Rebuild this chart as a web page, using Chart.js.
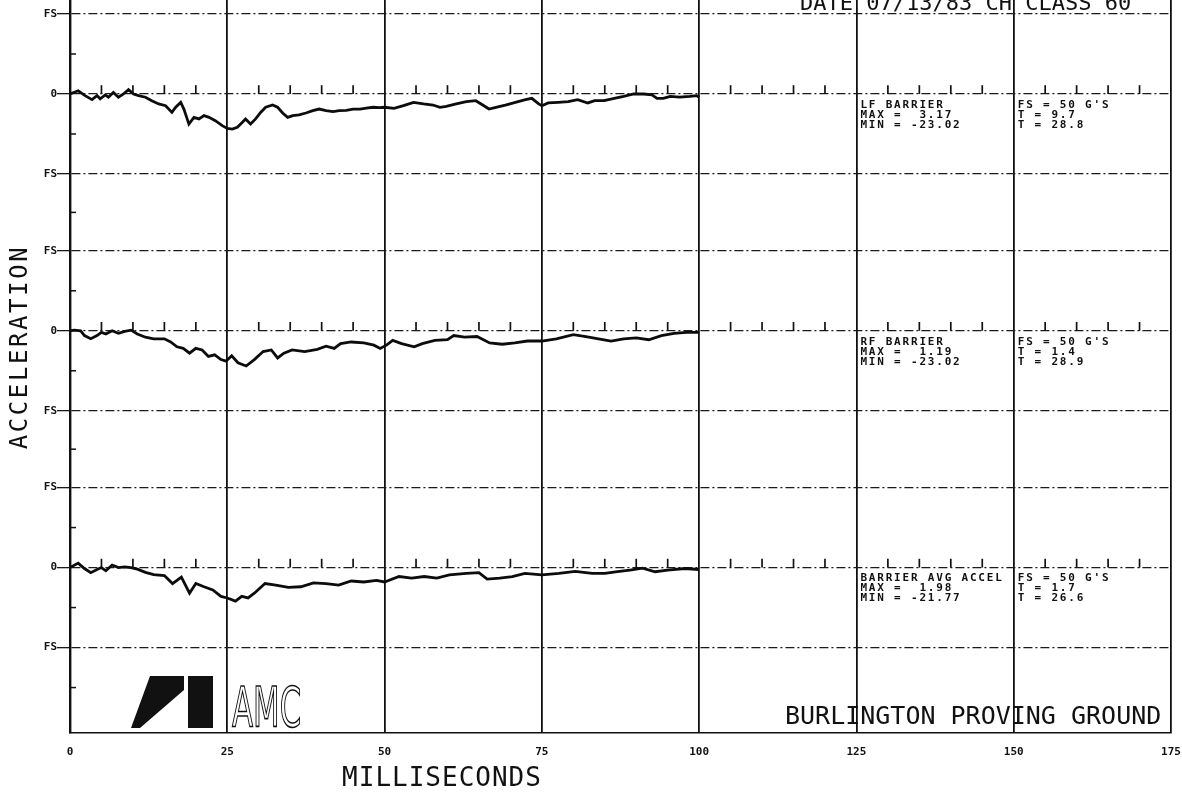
<!DOCTYPE html>
<html>
<head>
<meta charset="utf-8">
<script src="https://cdn.jsdelivr.net/npm/chart.js@4.4.0/dist/chart.umd.min.js"></script>
<style>
  html, body { margin: 0; padding: 0; background: #fff; }
  #wrap { width: 1182px; height: 793px; }
</style>
</head>
<body>
<div id="wrap"><canvas id="crashChart" width="1182" height="793"></canvas></div>
<script>
// [time ms, acceleration G]
const lfBarrier = [
  [0, 0], [1.3, 2], [2.4, -1], [3.5, -3.5], [4.3, -1], [4.8, -3], [5.6, -0.6], [6.1, -2], [6.9, 1], [7.7, -2],
  [8.5, 0], [9.3, 2.7], [10.1, 0], [10.9, -1], [12, -2], [13, -4.2], [14.1, -6.2], [15.2, -7.3], [16.2, -11.5], [16.8, -8.3],
  [17.6, -5.2], [18.1, -9.4], [18.9, -18.8], [19.7, -14.6], [20.5, -15.6], [21.3, -13.5], [22.1, -14.6], [23.1, -16.7], [24.2, -19.8], [25, -21.5],
  [25.8, -21.9], [26.6, -20.8], [27.4, -17.7], [27.9, -15.6], [28.7, -18.8], [29.5, -15.6], [30.3, -11.5], [31.1, -8.3], [32.2, -6.9], [33, -8.3],
  [33.8, -11.9], [34.6, -14.6], [35.4, -13.5], [36.4, -13.1], [37.5, -11.9], [38.6, -10.4], [39.6, -9.4], [40.7, -10.4], [41.8, -11], [42.8, -10.4],
  [43.9, -10.2], [45, -9.4], [46.1, -9.4], [47.1, -8.8], [48.2, -8.3], [49.2, -8.5], [50, -8.3], [51.5, -9], [53, -7.3], [54.6, -5.2],
  [56.2, -6.2], [57.7, -6.9], [58.8, -8.3], [59.8, -7.7], [61.4, -6.2], [63, -4.8], [64.5, -4.2], [65.6, -6.9], [66.6, -9.4], [67.7, -8.3],
  [69.2, -6.9], [70.8, -5.2], [72.4, -3.5], [73.4, -2.7], [74.5, -6.2], [75, -7.3], [76, -5.6], [77.6, -5.2], [79.2, -4.8], [80.7, -3.5],
  [82.3, -5.6], [83.4, -4.2], [84.9, -4.2], [86.5, -2.7], [88, -1.5], [89.6, 0], [91.2, 0], [92.5, -0.6], [93.3, -2.7], [94.3, -2.7],
  [95.4, -1.5], [96.9, -2], [98.5, -1.5], [99.6, -1], [100, -2]
];
const rfBarrier = [
  [0, 0], [0.7, 0.4], [1.7, 0], [2.3, -3], [3.3, -5], [4.3, -3], [5, -1], [5.7, -2], [6.7, 0], [7.7, -1.6],
  [8.7, -0.4], [9.7, 0.4], [10.7, -2], [12, -4], [13.3, -5], [15, -5], [16, -7], [17, -10], [18, -11], [19, -14],
  [20, -11], [21, -12], [22, -16], [23, -15], [24, -18], [24.8, -19], [25.7, -15.6], [26.7, -20], [28, -22], [29.3, -18],
  [30.7, -13], [32, -12], [33, -17], [34, -14], [35.3, -12], [37.3, -13], [39.3, -11.6], [40.7, -9.6], [42, -11], [43, -8],
  [44.7, -7], [46.7, -7.6], [48.3, -9], [49.3, -11], [50.3, -9], [51.3, -6], [52.7, -8], [54.7, -10], [56, -8], [58, -6],
  [60, -5.6], [61, -3], [62.7, -4], [64.7, -3.6], [66.7, -7.6], [68.7, -8.4], [70.7, -7.6], [72.7, -6.4], [75, -6.4], [77.3, -5],
  [80, -2.4], [82, -3.6], [84, -5], [86, -6.4], [88, -5], [90, -4.4], [92, -5.6], [94, -3], [96, -1.6], [98, -1], [100, -1]
];
const avgBarrier = [
  [0, 0], [1.3, 2.8], [2.3, -0.6], [3.3, -3.2], [4.3, -1.2], [5, 0], [5.7, -2], [6.7, 1.6], [7.7, 0], [8.7, 0.4],
  [9.7, 0], [10.7, -1], [12, -3], [13.3, -4.4], [15, -5], [16.3, -10], [17.7, -6], [19, -16], [20, -10], [21.3, -12],
  [22.7, -14], [24, -18], [25, -19], [26.3, -21], [27.3, -18], [28.3, -19], [29.3, -16], [31, -10], [32.7, -11], [34.7, -12.4],
  [36.7, -12], [38.7, -9.6], [40.7, -10], [42.7, -11], [44.7, -8.4], [46.7, -9], [48.7, -8], [50, -9], [52.3, -5.6], [54.3, -6.6],
  [56.3, -5.6], [58.3, -6.6], [60.3, -4.6], [63, -3.6], [65, -3.2], [66.3, -7.2], [68.3, -6.6], [70.3, -5.6], [72.3, -3.6], [75, -4.6],
  [77.7, -3.6], [80.3, -2.4], [83, -3.6], [85, -3.6], [87, -2.6], [89, -1.6], [91, -0.4], [93, -2.6], [95, -1.6], [97.7, -0.6], [100, -1.2]
];

// 5 ms timing marks along each zero line
const markerTimes = [5, 10, 15, 20, 30, 35, 40, 45, 55, 60, 65, 70, 80, 85, 90, 95,
  105, 110, 115, 120, 130, 135, 140, 145, 155, 160, 165, 170];

const channelNames = ['LF BARRIER', 'RF BARRIER', 'BARRIER AVG ACCEL'];
const channelMax = [3.17, 1.19, 1.98];
const channelMin = [-23.02, -23.02, -21.77];
const channelFS = [50, 50, 50];
const channelTMax = [9.7, 1.4, 1.7];
const channelTMin = [28.8, 28.9, 26.6];

const xTickLabels = ['0', '25', '50', '75', '100', '125', '150', '175'];

// layout: where each channel's zero sits on the shared G axis
const panelZero = [0, -148, -296];
const yTop = 58.75;
const yBottom = -399.4;
const traces = [lfBarrier, rfBarrier, avgBarrier];

const majorTicks = {};
const minorTicks = [];
panelZero.forEach((o, i) => {
  majorTicks[o + channelFS[i]] = 'FS';
  majorTicks[o] = '0';
  majorTicks[o - channelFS[i]] = 'FS';
  minorTicks.push(o + channelFS[i] / 2, o - channelFS[i] / 2);
  const next = panelZero[i + 1];
  if (next !== undefined) minorTicks.push((o - 50 + next + 50) / 2);
});
minorTicks.push(panelZero[2] - 75);
const yTickValues = Object.keys(majorTicks).map(Number).concat(minorTicks).sort((a, b) => a - b);

const datasets = traces.map((tr, i) => ({
  data: tr.map(p => ({ x: p[0], y: panelZero[i] + p[1] })),
  borderColor: '#0c0c0c',
  borderWidth: 2.8,
  pointRadius: 0,
  tension: 0
}));

const MONO = "'DejaVu Sans Mono', 'Liberation Mono', monospace";

function put(ctx, s, x, y, font, spacing, align) {
  ctx.font = font;
  ctx.letterSpacing = (spacing || 0) + 'px';
  ctx.textAlign = align || 'left';
  ctx.fillText(s, x, y);
}

// the plot runs off the top of the sheet, so pin the area to the page top
const flushTop = {
  id: 'flushTop',
  afterLayout(chart) {
    const y = chart.scales.y;
    chart.chartArea.top = 0;
    chart.chartArea.height = chart.chartArea.bottom;
    y.top = 0;
    y.height = y.bottom;
    y.configure();
  }
};

const decor = {
  id: 'decor',
  afterDraw(chart) {
    const { ctx, chartArea: a, scales: { x, y } } = chart;
    ctx.save();
    ctx.fillStyle = '#111';
    ctx.strokeStyle = '#111';

    // short inward ticks on the left axis
    ctx.lineWidth = 1.5;
    minorTicks.forEach(v => {
      const py = y.getPixelForValue(v);
      ctx.beginPath();
      ctx.moveTo(a.left, py);
      ctx.lineTo(a.left + 6, py);
      ctx.stroke();
    });

    // timing marks standing on each zero line
    ctx.lineWidth = 1.7;
    panelZero.forEach(o => {
      const y0 = y.getPixelForValue(o);
      const y1 = y.getPixelForValue(o + 5.5);
      markerTimes.forEach(t => {
        const px = x.getPixelForValue(t);
        ctx.beginPath();
        ctx.moveTo(px, y0);
        ctx.lineTo(px, y1);
        ctx.stroke();
      });
    });

    // channel annotation blocks
    ctx.textBaseline = 'middle';
    channelNames.forEach((name, i) => {
      const y0 = y.getPixelForValue(panelZero[i]);
      const xa = x.getPixelForValue(125) + 4;
      const xb = x.getPixelForValue(150) + 4;
      const f = 'bold 11px ' + MONO;
      put(ctx, name, xa, y0 + 11, f, 1.8);
      put(ctx, 'MAX =  ' + channelMax[i].toFixed(2), xa, y0 + 21, f, 1.8);
      put(ctx, 'MIN = ' + channelMin[i].toFixed(2), xa, y0 + 31, f, 1.8);
      put(ctx, 'FS = ' + channelFS[i] + " G'S", xb, y0 + 11, f, 1.8);
      put(ctx, 'T = ' + channelTMax[i].toFixed(1), xb, y0 + 21, f, 1.8);
      put(ctx, 'T = ' + channelTMin[i].toFixed(1), xb, y0 + 31, f, 1.8);
    });

    ctx.textBaseline = 'alphabetic';
    // header, cut by the top edge
    put(ctx, 'DATE 07/13/83 CH CLASS 60', 800, 10, '22px ' + MONO, 0);
    // axis titles
    put(ctx, 'MILLISECONDS', 442, 786, '26px ' + MONO, 1, 'center');
    ctx.save();
    ctx.translate(27, 347);
    ctx.rotate(-Math.PI / 2);
    put(ctx, 'ACCELERATION', 0, 0, '24px ' + MONO, 2.6, 'center');
    ctx.restore();
    // footer
    put(ctx, 'BURLINGTON PROVING GROUND', 785, 724, '25px ' + MONO, 0);

    // AMC mark
    ctx.beginPath();
    ctx.moveTo(150, 676); ctx.lineTo(184, 676); ctx.lineTo(184, 690); ctx.lineTo(140, 728); ctx.lineTo(131, 728);
    ctx.closePath();
    ctx.fill();
    ctx.fillRect(188, 676, 25, 52);
    ctx.save();
    ctx.translate(232, 726);
    ctx.scale(0.55, 1);
    ctx.font = "56px 'DejaVu Sans', sans-serif";
    ctx.letterSpacing = '0px';
    ctx.lineWidth = 1.6;
    ctx.strokeText('AMC', 0, 0);
    ctx.restore();
    ctx.restore();
  }
};

new Chart(document.getElementById('crashChart'), {
  type: 'line',
  data: { datasets },
  plugins: [flushTop, decor],
  options: {
    responsive: false,
    animation: false,
    events: [],
    layout: { autoPadding: false, padding: { left: 0, top: 0, right: 11, bottom: 0 } },
    plugins: { legend: { display: false }, tooltip: { enabled: false } },
    scales: {
      x: {
        type: 'linear',
        min: 0,
        max: 175,
        afterFit: s => { s.height = 60; },
        ticks: {
          stepSize: 25,
          padding: 0,
          autoSkip: false,
          maxRotation: 0,
          color: '#111',
          font: { family: MONO, size: 11, weight: 'bold' },
          callback: (v, i) => xTickLabels[i]
        },
        grid: { color: '#111', lineWidth: 1.8, drawTicks: true, tickLength: 13, tickColor: 'rgba(0,0,0,0)' },
        border: { color: '#111', width: 1.6 }
      },
      y: {
        min: yBottom,
        max: yTop,
        afterBuildTicks: s => { s.ticks = yTickValues.map(v => ({ value: v })); },
        afterFit: s => { s.width = 70; },
        ticks: {
          padding: 0,
          autoSkip: false,
          color: '#111',
          font: { family: MONO, size: 11, weight: 'bold' },
          callback: v => (v in majorTicks ? majorTicks[v] : null)
        },
        grid: {
          color: c => (c.tick && c.tick.value in majorTicks ? '#1a1a1a' : 'rgba(0,0,0,0)'),
          tickColor: c => (c.tick && c.tick.value in majorTicks ? '#1a1a1a' : 'rgba(0,0,0,0)'),
          lineWidth: 1.3,
          tickLength: 13
        },
        border: { color: '#111', width: 2.4, dash: [9, 3, 2, 3] }
      }
    }
  }
});
</script>
</body>
</html>
